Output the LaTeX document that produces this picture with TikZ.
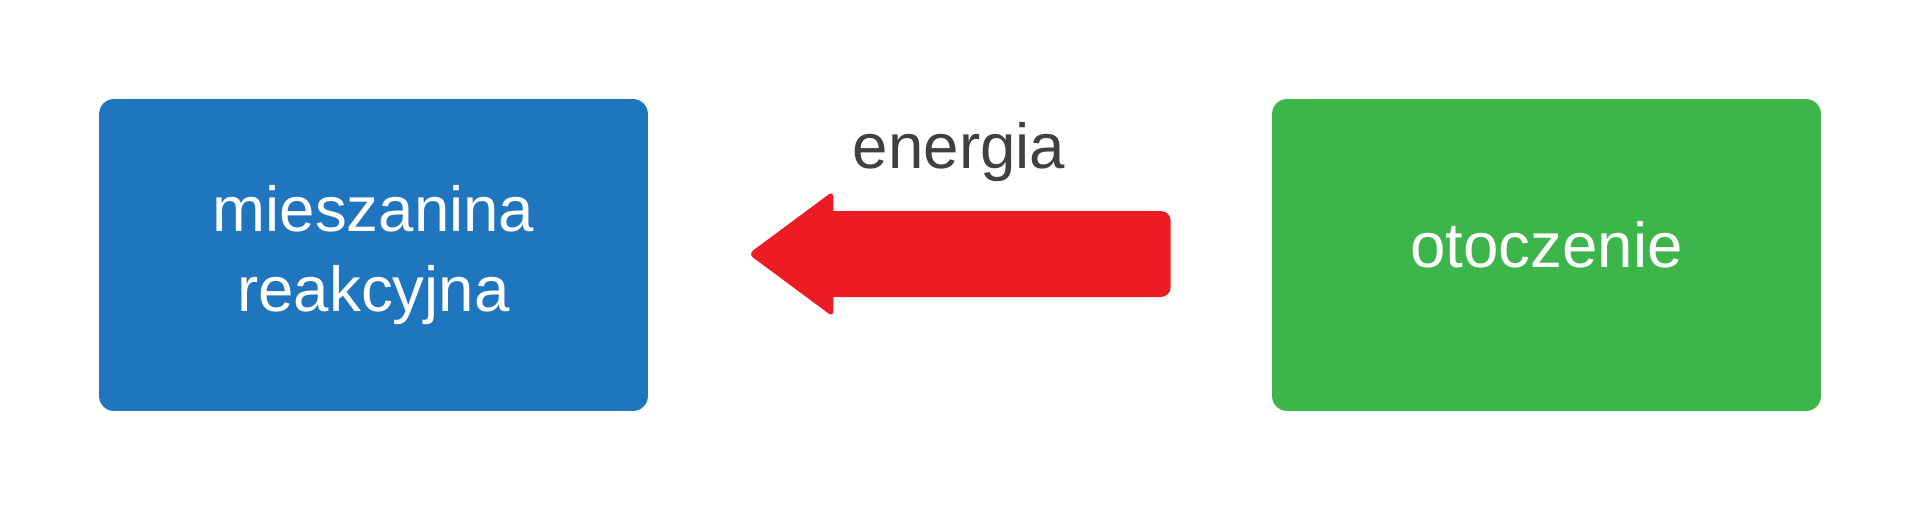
\documentclass[tikz,border=0pt]{standalone}
\usepackage{fontspec}
\setmainfont{Liberation Sans}
\usepackage{xcolor}
\usepackage{tikz}
\usetikzlibrary{calc}
\definecolor{mixblue}{HTML}{1F75BE}
\definecolor{envgreen}{HTML}{3CB54A}
\definecolor{heatred}{HTML}{ED1C24}
\definecolor{labelgray}{HTML}{404040}

\begin{document}
\begin{tikzpicture}[x=0.02cm, y=-0.02cm]
      \tikzstyle{box} = [rectangle, rounded corners=0.3cm, minimum width=10.98cm, minimum height=6.24cm, text=white, align=center, font=\fontsize{36.2}{45.5}\selectfont]
      \tikzstyle{flow} = [fill=heatred, rounded corners=0.12cm]

      \useasboundingbox (0,0) rectangle (1920,510);

      \node[box, fill=mixblue] (mix) at (373.5,255) {mieszanina\\reakcyjna};
      \node[box, fill=envgreen, text height=0.7cm, text depth=0.18cm] (env) at (1546.5,255) {otoczenie};

      \coordinate (tip) at ($(mix.east)+(100,-1)$);
      \coordinate (tail) at ($(env.west)+(-101,-1)$);
      \fill[flow] (tip) -- ($(tip)+(85,-63)$) [sharp corners] -- ($(tip)+(85,-43)$)
            [rounded corners=0.2cm] -- ($(tail)+(0,-43)$) -- ($(tail)+(0,43)$)
            [sharp corners] -- ($(tip)+(85,43)$) [rounded corners=0.12cm] -- ($(tip)+(85,63)$) -- cycle;

      \node[text=labelgray, anchor=base, font=\fontsize{36.2}{45.5}\selectfont] (heat) at (959,168) {energia};
    \end{tikzpicture}
\end{document}
